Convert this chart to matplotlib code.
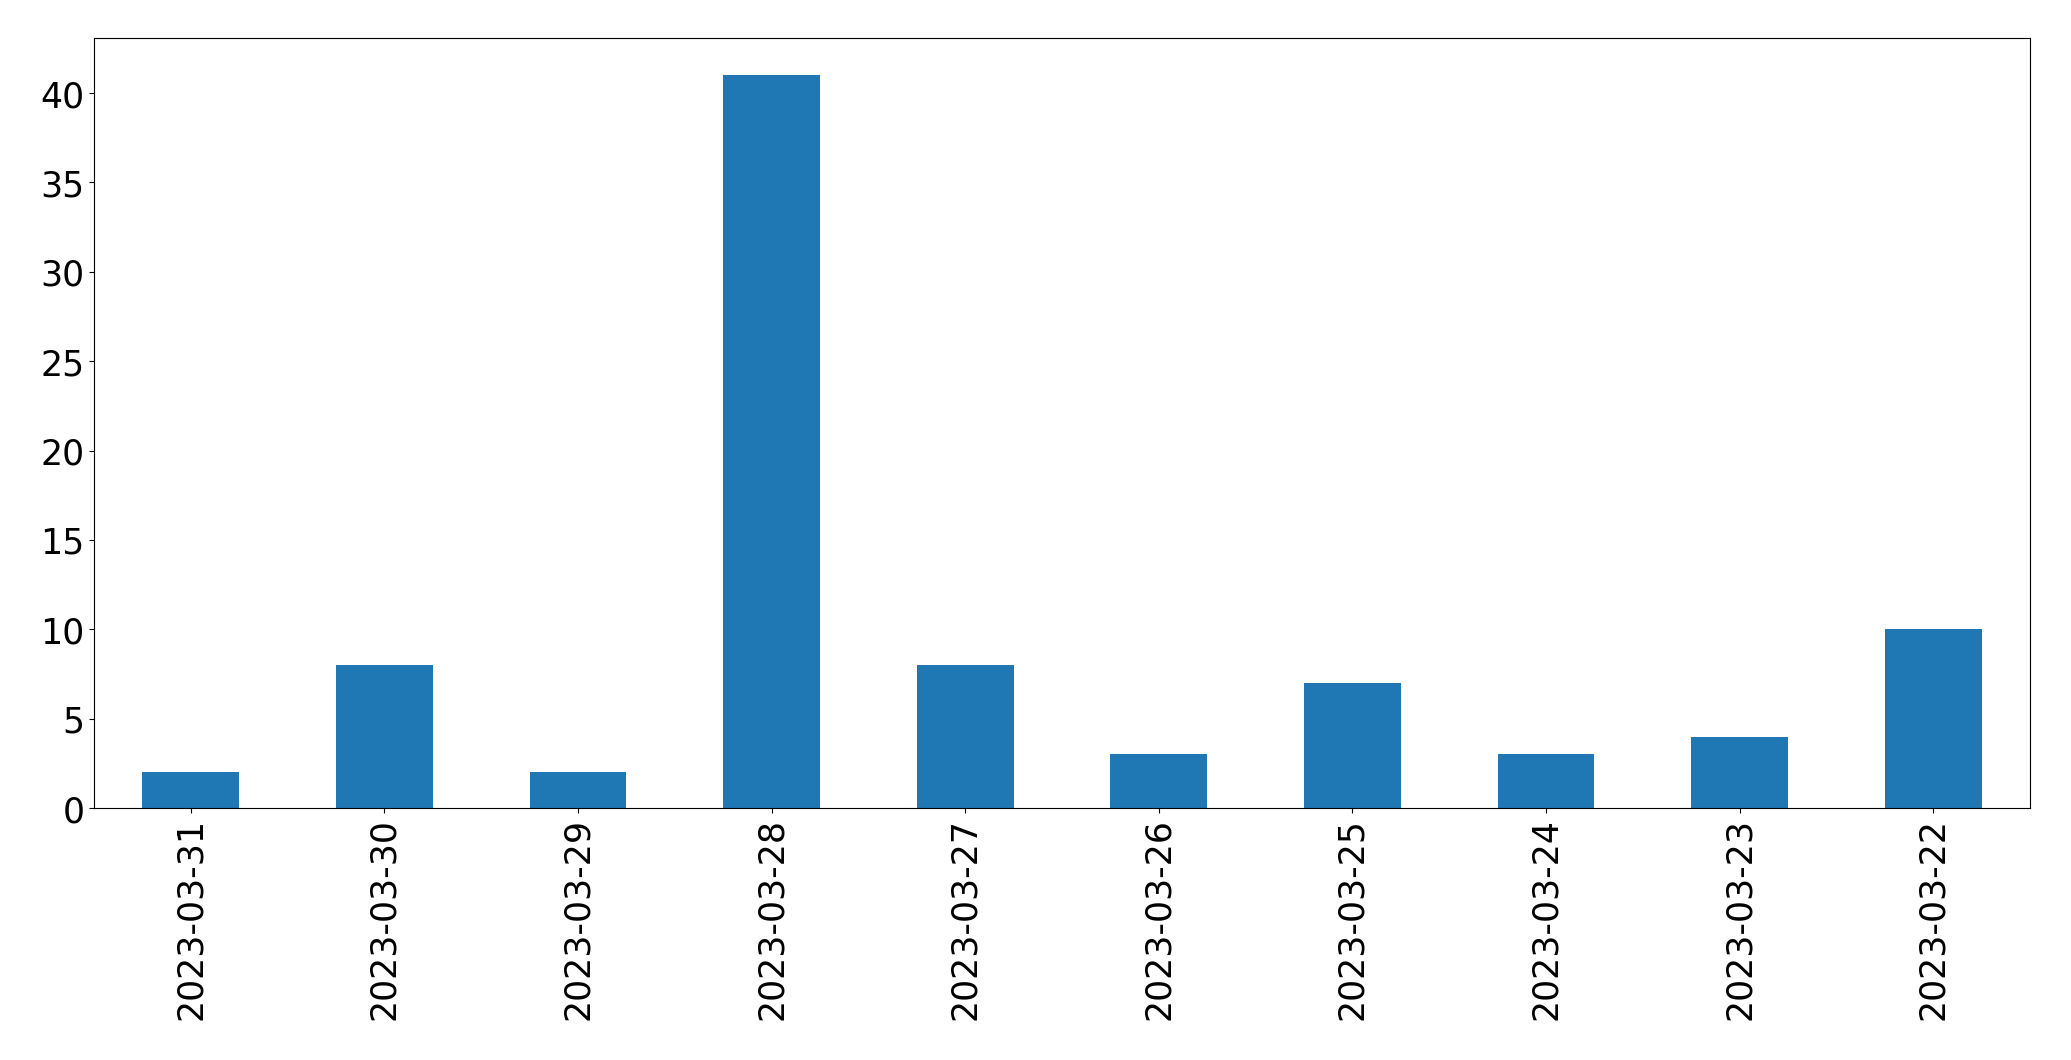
import matplotlib
matplotlib.use('Agg')
import matplotlib.pyplot as plt
import pandas as pd

dates = ['2023-03-31', '2023-03-30', '2023-03-29', '2023-03-28', '2023-03-27',
         '2023-03-26', '2023-03-25', '2023-03-24', '2023-03-23', '2023-03-22']
counts = [2, 8, 2, 41, 8, 3, 7, 3, 4, 10]

s = pd.Series(counts, index=dates)

fig = plt.figure(figsize=(20.71, 10.605), dpi=100)
ax = fig.add_axes([94 / 2071, 1 - 809 / 1061, (2030 - 94) / 2071, (809 - 39) / 1061])
s.plot(kind='bar', ax=ax, color='#1f77b4')
ax.tick_params(axis='both', labelsize=25)
fig.savefig('out.png', dpi=100)
